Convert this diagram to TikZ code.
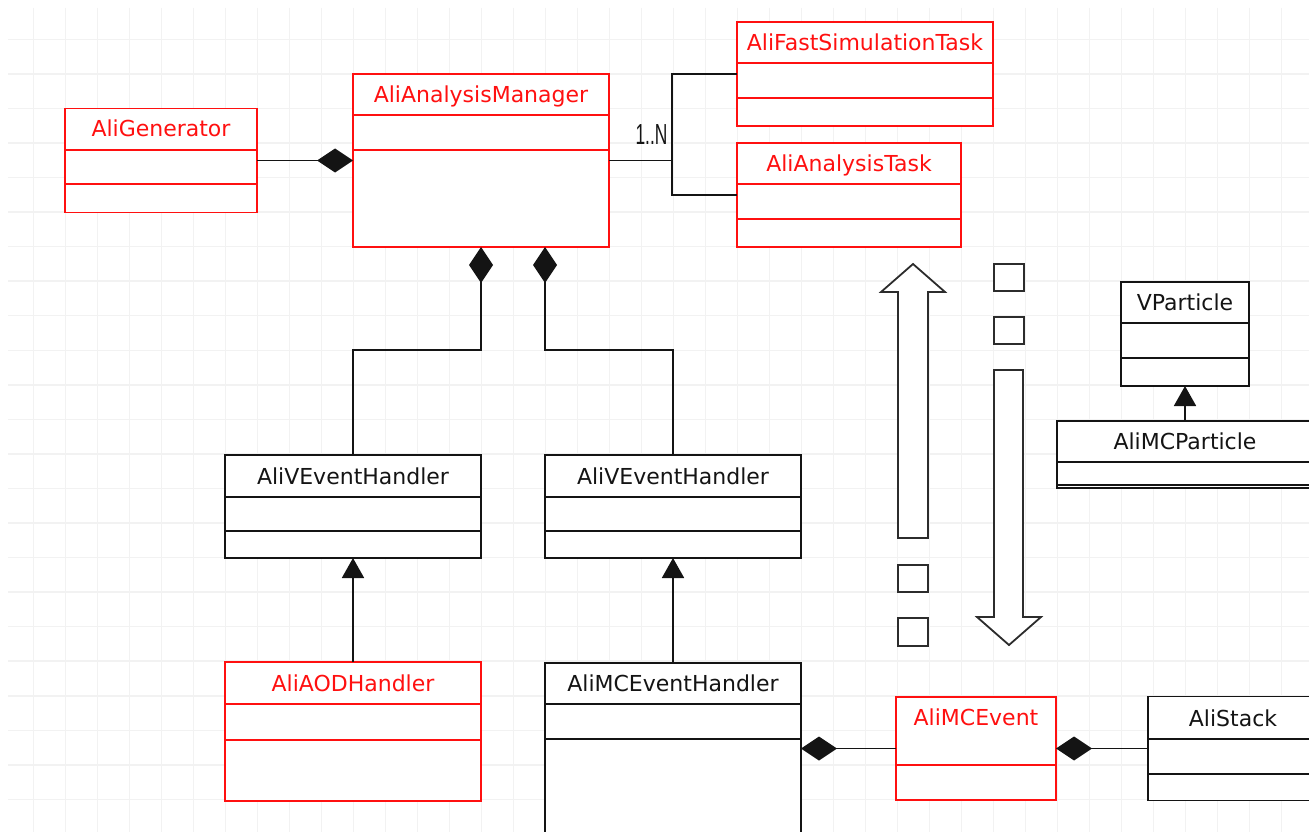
\documentclass[tikz,border=0pt]{standalone}
\usepackage{fontspec}
\setmainfont{DejaVu Sans}
\newfontfamily\narrowfont{Liberation Sans}
\usetikzlibrary{arrows.meta}
\definecolor{ink}{HTML}{141414}
\definecolor{umlred}{HTML}{FF1010}
\definecolor{gridc}{HTML}{F2F2F2}
\newcommand\udiv[3]{\draw[#1] (#2.west |- 0,#3) -- (#2.east |- 0,#3);}
\begin{document}
\begin{tikzpicture}[x=1pt,y=-1pt,line width=1.8pt,
  umlbox/.style={draw, rectangle, inner sep=0pt, outer sep=0pt, fill=white},
  ttl/.style={inner sep=0pt, text height=16pt, text depth=0pt, font=\fontsize{22}{26}\selectfont},
  dia/.style={{Diamond[length=36pt,width=24pt]}-},
  inh/.style={-{Triangle[length=20pt,width=22pt]}},
  gridl/.style={draw=gridc, line width=1.5pt},
  shapeline/.style={draw=ink!90, fill=white, line width=1.8pt}]
\path[use as bounding box, clip] (0,0) rectangle (1309,832);
\fill[white] (0,0) rectangle (1309,832);
% grid
\foreach \k in {1,...,40} \draw[gridl] ({1.3+32*\k},8) -- ({1.3+32*\k},832);
\foreach \k in {0,...,22} \draw[gridl] (8,{39.3+34.55*\k}) -- (1309,{39.3+34.55*\k});

% class boxes
\node[umlbox, draw=umlred, minimum width=192pt, minimum height=104pt] (gen) at (161,160.5) {};
\node[umlbox, draw=umlred, minimum width=256pt, minimum height=173pt] (mgr) at (481,160.5) {};
\node[umlbox, draw=umlred, minimum width=256pt, minimum height=104pt] (fast) at (865,74) {};
\node[umlbox, draw=umlred, minimum width=224pt, minimum height=104pt] (ana) at (849,195) {};
\node[umlbox, draw=ink, minimum width=256pt, minimum height=103pt] (vh1) at (353,506.5) {};
\node[umlbox, draw=ink, minimum width=256pt, minimum height=103pt] (vh2) at (673,506.5) {};
\node[umlbox, draw=umlred, minimum width=256pt, minimum height=139pt] (aod) at (353,731.5) {};
\node[umlbox, draw=ink, minimum width=256pt, minimum height=237pt] (mceh) at (673,781.5) {};
\node[umlbox, draw=umlred, minimum width=160pt, minimum height=103pt] (mcev) at (976,748.5) {};
\node[umlbox, draw=ink, minimum width=172pt, minimum height=104pt] (stack) at (1234,748.5) {};
\node[umlbox, draw=ink, minimum width=128pt, minimum height=104pt] (vp) at (1185,334) {};
\node[umlbox, draw=ink, minimum width=256pt, minimum height=67pt] (mcp) at (1185,454.5) {};

% compartments
\udiv{umlred}{gen}{150} \udiv{umlred}{gen}{184}
\udiv{umlred}{mgr}{115} \udiv{umlred}{mgr}{150}
\udiv{umlred}{fast}{63} \udiv{umlred}{fast}{98}
\udiv{umlred}{ana}{184} \udiv{umlred}{ana}{219}
\udiv{ink}{vh1}{497} \udiv{ink}{vh1}{531}
\udiv{ink}{vh2}{497} \udiv{ink}{vh2}{531}
\udiv{umlred}{aod}{704} \udiv{umlred}{aod}{740}
\udiv{ink}{mceh}{704} \udiv{ink}{mceh}{739}
\udiv{umlred}{mcev}{765}
\udiv{ink}{stack}{739} \udiv{ink}{stack}{774}
\udiv{ink}{vp}{323} \udiv{ink}{vp}{358}
\udiv{ink}{mcp}{462} \udiv{ink}{mcp}{485}

% titles
\node[ttl, text=umlred] (genT) at (161,129) {AliGenerator};
\node[ttl, text=umlred] (mgrT) at (481,94.5) {AliAnalysisManager};
\node[ttl, text=umlred] (fastT) at (865,42.5) {AliFastSimulationTask};
\node[ttl, text=umlred] (anaT) at (849,163.5) {AliAnalysisTask};
\node[ttl, text=ink] (vh1T) at (353,476) {AliVEventHandler};
\node[ttl, text=ink] (vh2T) at (673,476) {AliVEventHandler};
\node[ttl, text=umlred] (aodT) at (353,683) {AliAODHandler};
\node[ttl, text=ink] (mcehT) at (673,683.5) {AliMCEventHandler};
\node[ttl, text=umlred] (mcevT) at (976,717) {AliMCEvent};
\node[ttl, text=ink] (stackT) at (1233,718) {AliStack};
\node[ttl, text=ink] (vpT) at (1185,302.5) {VParticle};
\node[ttl, text=ink] (mcpT) at (1185,441.5) {AliMCParticle};

% connectors
\draw[ink, dia] (mgr.west) -- (gen.east);
\coordinate (fork) at (672,160.5);
\draw[ink] (mgr.east) -- (fork);
\draw[ink] (fast.west) -| (fork) |- (ana.west);
\node[anchor=base east, inner sep=0pt, text=ink, font=\narrowfont\fontsize{29}{32}\selectfont, xscale=0.6] (mult) at (668,145) {1..N};
\draw[ink, dia] (mgr.south) -- ++(0,103) -| (vh1.north);
\draw[ink, dia] ([xshift=64pt]mgr.south) -- ++(0,103) -| (vh2.north);
\draw[ink, inh] (aod.north) -- (vh1.south);
\draw[ink, inh] (mceh.north) -- (vh2.south);
\draw[ink, inh] (mcp.north) -- (vp.south);
\draw[ink, dia] (mceh.east |- mcev.west) -- (mcev.west);
\draw[ink, dia] (mcev.east) -- (stack.west);

% big arrows and small squares
\draw[shapeline] (898,538) -- (898,292) -- (881,292) -- (913,264) -- (945,292) -- (928,292) -- (928,538) -- cycle;
\draw[shapeline] (994,370) -- (994,617) -- (977,617) -- (1009,645) -- (1041,617) -- (1023,617) -- (1023,370) -- cycle;
\draw[shapeline] (994,264) rectangle (1024,291);
\draw[shapeline] (994,317) rectangle (1024,344);
\draw[shapeline] (898,565) rectangle (928,592);
\draw[shapeline] (898,618) rectangle (928,646);
\end{tikzpicture}
\end{document}
